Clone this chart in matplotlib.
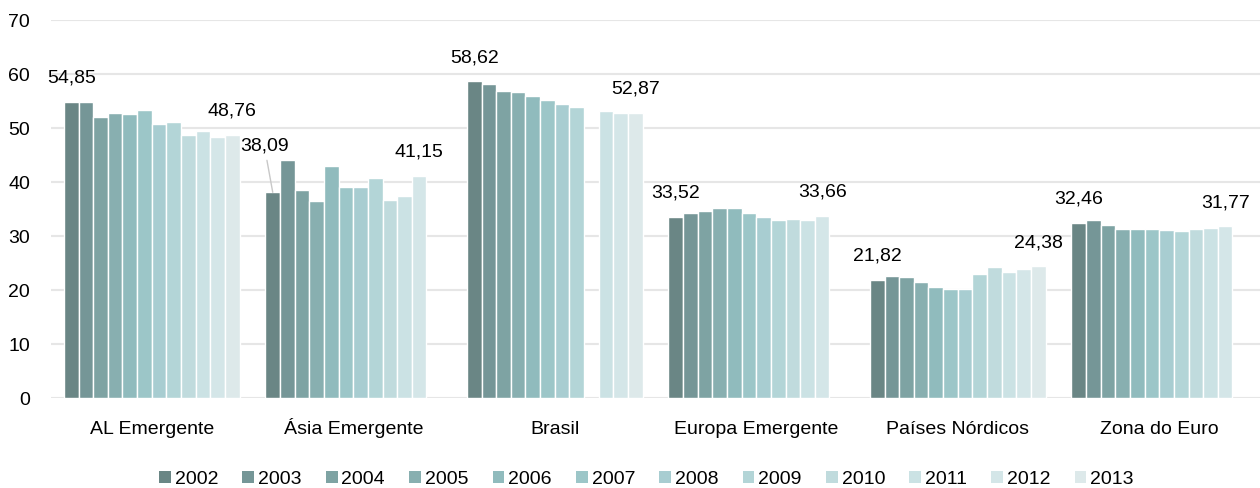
import numpy as np
import matplotlib
matplotlib.use("Agg")
import matplotlib.pyplot as plt
from matplotlib.patches import Patch

plt.rcParams["font.family"] = ["Liberation Sans Narrow", "Liberation Sans", "DejaVu Sans"]

# =========================================================================
# DATA
# =========================================================================
categories = ["AL Emergente", "Ásia Emergente", "Brasil",
              "Europa Emergente", "Países Nórdicos", "Zona do Euro"]
years = [str(y) for y in range(2002, 2014)]
nan = np.nan

al_emergente   = [54.85, 54.87, 52.10, 52.84, 52.66, 53.33, 50.74, 51.05, 48.64, 49.44, 48.33, 48.76]
asia_emergente = [38.09, 44.07, 38.52, 36.42, 42.96, 39.07, 39.07, 40.68, 36.67, 37.47, 41.15, nan]
brasil         = [58.62, 58.09, 56.91, 56.67, 55.99, 55.25, 54.38, 53.89, nan, 53.09, 52.72, 52.87]
europa_emerg   = [33.52, 34.32, 34.69, 35.12, 35.12, 34.20, 33.52, 33.03, 33.15, 33.03, 33.66, nan]
paises_nordic  = [21.82, 22.59, 22.35, 21.48, 20.62, 20.12, 20.12, 22.96, 24.20, 23.40, 23.89, 24.38]
zona_euro      = [32.46, 32.90, 32.04, 31.30, 31.30, 31.30, 31.17, 30.99, 31.23, 31.48, 31.77, nan]

series = [al_emergente, asia_emergente, brasil, europa_emerg, paises_nordic, zona_euro]

colors = ["#6a8685", "#759697", "#7ea3a3", "#88afb0", "#90bbbd", "#9cc6c8",
          "#a8cdd1", "#b3d5d7", "#c0dbdd", "#cbe2e4", "#d4e6e8", "#dde9ea"]

# labelled bars: (group, year index, text offset in points, leader line)
labels = [(0, 0, (0, 11), False), (0, 11, (0, 11), False),
          (1, 0, (-6, 27), True), (1, 10, (0, 11), False),
          (2, 0, (0, 11), False), (2, 11, (0, 11), False),
          (3, 0, (0, 11), False), (3, 10, (0, 11), False),
          (4, 0, (0, 11), False), (4, 11, (0, 11), False),
          (5, 0, (0, 11), False), (5, 10, (0, 11), False)]

# =========================================================================
# PLOT
# =========================================================================
fig = plt.figure(figsize=(12.6, 4.88), dpi=100)
ax = fig.add_axes([0.0405, 0.1844, 0.9595, 0.7746])

data = np.array(series)
n_years = len(years)
slot = 0.872 / n_years
x = np.arange(len(categories))

for j in range(n_years):
    pos = x - 0.436 + slot * (j + 0.5)
    ax.bar(pos, data[:, j], width=slot, color=colors[j],
           edgecolor="white", linewidth=1.0, zorder=3)

for g, j, off, leader in labels:
    v = data[g, j]
    px = x[g] - 0.436 + slot * (j + 0.5)
    txt = f"{v:.2f}".replace(".", ",")
    arrow = None
    if leader:
        arrow = dict(arrowstyle="-", color="#c8c8c8", lw=1, shrinkA=2, shrinkB=0)
    ax.annotate(txt, xy=(px, v), xytext=off, textcoords="offset points",
                ha="center", va="bottom", fontsize=14, zorder=4,
                arrowprops=arrow)

ax.set_ylim(0, 70)
ax.set_yticks(range(0, 71, 10))
ax.set_xlim(-0.5, len(categories) - 0.5)
ax.set_xticks(x)
ax.set_xticklabels(categories, fontsize=14)
ax.tick_params(axis="y", labelsize=14, length=0, pad=15)
ax.tick_params(axis="x", length=0, pad=26)
for lbl in ax.get_xticklabels():
    lbl.set_verticalalignment("baseline")
ax.grid(axis="y", color="#e6e6e6", linewidth=1.5, zorder=0)
for s in ax.spines.values():
    s.set_visible(False)

handles = [Patch(facecolor=c, edgecolor="none") for c in colors]
fig.legend(handles, years, loc="lower center", ncol=12, frameon=False,
           fontsize=14, bbox_to_anchor=(0.513, -0.035), handlelength=0.6,
           handleheight=0.6, handletextpad=0.2, columnspacing=1.25)

fig.savefig("out.png", dpi=100)
